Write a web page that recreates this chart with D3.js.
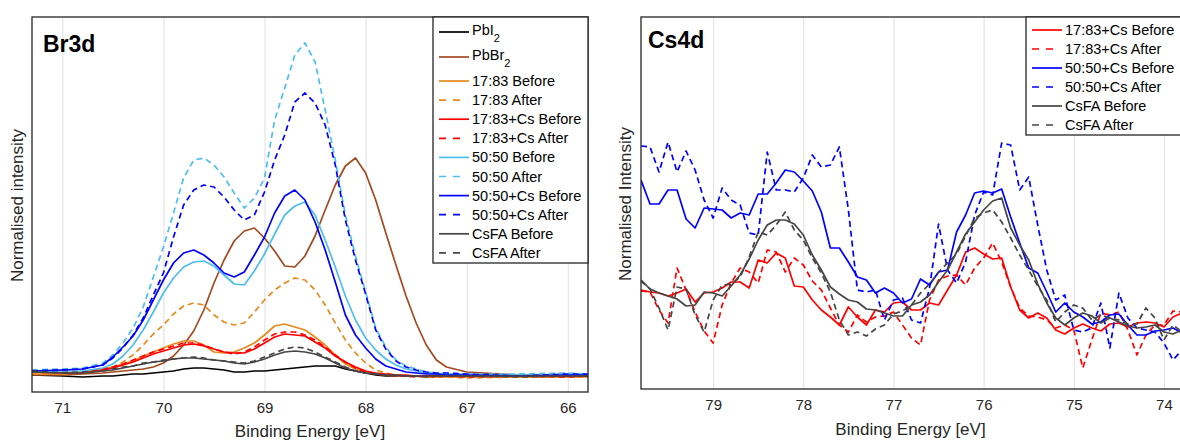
<!DOCTYPE html>
<html>
<head>
<meta charset="utf-8">
<script src="https://cdnjs.cloudflare.com/ajax/libs/d3/7.8.5/d3.min.js"></script>
<style>
body { margin: 0; background: #fff; }
svg { display: block; font-family: "Liberation Sans", Arial, sans-serif; }
</style>
</head>
<body>
<script>
// ---------- Br3d data (binding energy eV, intensity arb. units) ----------
var brEnergy = [71.3, 71.0, 70.8, 70.6, 70.5, 70.4, 70.3, 70.2, 70.1, 70.0,
    69.9, 69.8, 69.7, 69.6, 69.5, 69.4, 69.3, 69.2, 69.1, 69.0,
    68.9, 68.8, 68.7, 68.6, 68.5, 68.4, 68.3, 68.2, 68.1, 68.0,
    67.9, 67.8, 67.7, 67.6, 67.5, 67.4, 67.3, 67.2, 67.0, 66.5,
    66.0, 65.8];

var brPbI2 = [-3,-4,-5,-4,-4,-3,-2,-2,-1,0, 1,3,4,4,3,2,0,0,1,1, 2,3,4,5,6,6,6,3,1,-1, -3,-4,-4,-4,-4,-4,-4,-4,-4,-4, -4,-4];
var brPbBr2 = [-3,-3,-2,-1,0,1,2,3,5,9, 16,27,41,62,89,112,131,141,144,134, 121,106,105,116,136,162,187,206,214,199, 172,139,107,76,49,27,12,5,0,-3, -4,-4];
var br1783Before = [-2,-2,0,3,5,8,11,16,20,24, 28,31,31,27,20,19,20,24,29,37, 46,48,45,42,35,27,17,8,3,0, -2,-3,-4,-4,-4,-5,-5,-5,-5,-5, -5,-5];
var br1783After = [-2,-2,-1,2,5,10,17,27,38,47, 58,66,69,67,57,50,47,49,60,72, 82,89,94,92,82,67,49,32,19,9, 2,-1,-3,-4,-4,-5,-5,-5,-6,-5, -5,-5];
var br1783CsBefore = [0,-1,-1,2,4,7,10,14,18,21, 24,27,28,26,23,20,19,19,23,29, 35,38,37,36,30,24,16,10,5,1, -1,-2,-3,-3,-4,-4,-4,-4,-4,-4, -4,-4];
var br1783CsAfter = [2,1,0,3,5,8,12,16,20,23, 26,29,29,27,23,20,18,20,25,32, 38,40,40,37,32,25,17,10,4,0, -2,-3,-4,-4,-5,-4,-5,-4,-5,-4, -5,-4];
var br5050Before = [0,1,1,4,8,16,27,42,60,79, 94,105,110,111,106,97,88,87,101,118, 138,157,166,170,157,132,105,76,52,34, 22,13,7,3,1,-1,-2,-2,-3,-3, -3,-3];
var br5050After = [2,3,4,9,17,29,44,65,95,125, 159,194,212,214,207,195,179,164,174,194, 252,284,317,329,310,262,212,157,116,80, 44,25,12,6,3,0,-1,-2,-2,-2, -1,-2];
var br5050CsBefore = [1,2,3,7,15,25,36,52,72,92, 109,119,122,117,109,99,95,100,117,135, 159,176,182,172,150,122,90,57,37,24, 13,6,3,0,-1,-2,-2,-3,-3,-4, -3,-3];
var br5050CsAfter = [1,2,3,7,14,24,37,54,77,99, 135,167,182,187,185,175,162,152,157,180, 212,237,270,279,269,247,207,152,112,78, 42,23,11,5,2,0,-1,-1,-2,-4, -2,-2];
var brCsFABefore = [0,-1,-1,1,2,4,6,8,10,11, 13,14,14,13,12,11,9,8,10,13, 17,20,21,20,18,14,9,4,1,-1, -2,-3,-3,-4,-4,-4,-4,-4,-4,-4, -4,-4];
var brCsFAAfter = [1,-1,0,1,3,5,6,9,10,12, 13,14,15,14,12,11,10,9,11,15, 19,23,25,24,20,15,10,5,1,-1, -2,-3,-4,-4,-4,-5,-4,-4,-4,-5, -4,-4];

var brNames = ["PbI", "PbBr", "17:83 Before", "17:83 After", "17:83+Cs Before", "17:83+Cs After",
    "50:50 Before", "50:50 After", "50:50+Cs Before", "50:50+Cs After", "CsFA Before", "CsFA After"];
var brSubs = ["2", "2", "", "", "", "", "", "", "", "", "", ""];
var brTicks = [71, 70, 69, 68, 67, 66];

// ---------- Cs4d data ----------
var csEnergy = [79.8, 79.7, 79.6, 79.5, 79.4, 79.3, 79.2, 79.1, 79.0, 78.9,
    78.8, 78.7, 78.6, 78.5, 78.4, 78.3, 78.2, 78.1, 78.0, 77.9,
    77.8, 77.7, 77.6, 77.5, 77.4, 77.3, 77.2, 77.1, 77.0, 76.9,
    76.8, 76.7, 76.6, 76.5, 76.4, 76.3, 76.2, 76.1, 76.0, 75.9,
    75.8, 75.7, 75.6, 75.5, 75.4, 75.3, 75.2, 75.1, 75.0, 74.9,
    74.8, 74.7, 74.6, 74.5, 74.4, 74.3, 74.2, 74.1, 74.0, 73.9,
    73.8];

var cs1783CsBefore = [82,80,79,76,79,83,70,79,80,84, 90,90,84,112,109,119,114,86,85,72, 62,55,47,65,55,47,62,60,69,70, 62,62,69,67,82,97,120,124,118,113, 114,85,62,54,59,54,42,38,44,48, 44,41,48,49,45,49,50,49,45,55, 59];
var cs1783CsAfter = [81,80,62,49,104,82,60,41,29,67, 89,104,100,89,122,120,100,114,107,91, 82,64,47,40,57,50,55,56,60,47, 34,27,72,92,96,97,87,104,114,129, 110,85,64,56,55,52,44,47,42,4, 32,59,57,60,42,17,37,47,47,61, 60];
var cs5050CsBefore = [192,168,168,182,182,153,144,164,163,162, 154,159,157,178,178,189,202,200,191,181, 160,124,124,110,95,92,79,84,79,69, 73,93,87,100,102,140,157,179,181,179, 183,155,129,104,99,80,60,69,60,55, 48,50,57,58,47,37,37,41,42,44, 39];
var cs5050CsAfter = [226,225,200,230,200,221,202,172,154,184, 172,167,139,137,220,182,182,180,194,217, 205,207,225,162,82,80,82,52,72,74, 52,49,84,148,102,89,110,157,180,177, 229,227,182,195,147,102,72,77,42,40, 44,69,24,79,54,44,42,40,29,12, 22];
var csCsFABefore = [92,83,79,76,73,66,67,80,79,76, 86,97,113,132,147,152,152,148,137,117, 102,85,78,72,70,63,62,59,56,56, 67,70,77,90,102,120,138,150,162,171, 174,144,127,112,88,69,54,47,54,59, 56,49,54,50,46,44,45,47,40,38, 42];
var csCsFAAfter = [91,83,64,42,85,83,57,40,72,87, 88,95,115,140,137,147,160,142,132,114, 99,80,52,37,40,36,43,47,58,61, 67,79,88,100,109,118,136,154,159,162, 150,134,117,102,86,72,50,60,67,64, 52,57,54,52,48,48,64,54,32,47, 40];

var csNames = ["17:83+Cs Before", "17:83+Cs After", "50:50+Cs Before", "50:50+Cs After", "CsFA Before", "CsFA After"];
var csTicks = [79, 78, 77, 76, 75, 74];

// colours (MATLAB-like)
var black = "#000000", brown = "#a3491d", orange = "#e8891c", red = "#ff0000",
    lightBlue = "#4dbeee", blue = "#0000ff", grey = "#454545";
var dashed = "6,4";

var brSeries = [
    {values: brPbI2, color: black, dash: null},
    {values: brPbBr2, color: brown, dash: null},
    {values: br1783Before, color: orange, dash: null},
    {values: br1783After, color: orange, dash: dashed},
    {values: br1783CsBefore, color: red, dash: null},
    {values: br1783CsAfter, color: red, dash: dashed},
    {values: br5050Before, color: lightBlue, dash: null},
    {values: br5050After, color: lightBlue, dash: dashed},
    {values: br5050CsBefore, color: blue, dash: null},
    {values: br5050CsAfter, color: blue, dash: dashed},
    {values: brCsFABefore, color: grey, dash: null},
    {values: brCsFAAfter, color: grey, dash: dashed}
];
brSeries.forEach(function(s, i) { s.name = brNames[i]; s.sub = brSubs[i]; s.x = brEnergy; });

var csSeries = [
    {values: cs1783CsBefore, color: red, dash: null},
    {values: cs1783CsAfter, color: red, dash: dashed},
    {values: cs5050CsBefore, color: blue, dash: null},
    {values: cs5050CsAfter, color: blue, dash: dashed},
    {values: csCsFABefore, color: grey, dash: null},
    {values: csCsFAAfter, color: grey, dash: dashed}
];
csSeries.forEach(function(s, i) { s.name = csNames[i]; s.sub = ""; s.x = csEnergy; });

var svg = d3.select("body").append("svg")
    .attr("width", 1180)
    .attr("height", 440);

function drawPanel(p) {
    var x = d3.scaleLinear().domain(p.xDomain).range([p.left, p.right]);
    var y = d3.scaleLinear().domain(p.yDomain).range([p.bottom, p.top]);
    var g = svg.append("g");

    // vertical grid
    g.append("g")
        .attr("transform", "translate(0," + p.bottom + ")")
        .call(d3.axisBottom(x).tickValues(p.ticks).tickSize(-(p.bottom - p.top)).tickFormat(""))
        .call(function(a) {
            a.select(".domain").remove();
            a.selectAll("line").attr("stroke", "#dfdfdf").attr("stroke-width", 1);
        });

    // tick labels
    g.append("g")
        .attr("transform", "translate(0," + p.bottom + ")")
        .call(d3.axisBottom(x).tickValues(p.ticks).tickSize(0).tickPadding(10).tickFormat(d3.format("d")))
        .call(function(a) {
            a.select(".domain").remove();
            a.selectAll("text").attr("fill", "#262626").attr("font-size", 15)
                .attr("font-family", "Liberation Sans, Arial, sans-serif");
        });

    // curves
    g.append("clipPath").attr("id", p.id + "clip")
        .append("rect")
        .attr("x", p.left).attr("y", p.top)
        .attr("width", p.right - p.left).attr("height", p.bottom - p.top);

    var line = d3.line()
        .x(function(d) { return x(d[0]); })
        .y(function(d) { return y(d[1]); });

    g.append("g").attr("clip-path", "url(#" + p.id + "clip)")
        .selectAll("path")
        .data(p.series)
        .enter().append("path")
        .attr("d", function(s) { return line(s.values.map(function(v, i) { return [s.x[i], v]; })); })
        .attr("fill", "none")
        .attr("stroke", function(s) { return s.color; })
        .attr("stroke-width", 1.7)
        .attr("stroke-dasharray", function(s) { return s.dash; })
        .attr("stroke-linejoin", "round");

    // frame
    g.append("rect")
        .attr("x", p.left).attr("y", p.top)
        .attr("width", p.right - p.left).attr("height", p.bottom - p.top)
        .attr("fill", "none")
        .attr("stroke", "#262626")
        .attr("stroke-width", 1.3);

    // panel title
    g.append("text")
        .attr("x", p.left + (p.id == "br" ? 11 : 7))
        .attr("y", p.titleY)
        .attr("font-size", 23)
        .attr("font-weight", "bold")
        .attr("fill", "#000")
        .text(p.title);

    // axis labels
    g.append("text")
        .attr("x", (p.left + Math.min(p.right, 1180)) / 2 + p.xLabelShift)
        .attr("y", p.xLabelY)
        .attr("text-anchor", "middle")
        .attr("font-size", 17)
        .attr("fill", "#262626")
        .text("Binding Energy [eV]");

    g.append("text")
        .attr("transform", "translate(" + p.yLabelX + "," + ((p.top + p.bottom) / 2 + 1) + ") rotate(-90)")
        .attr("text-anchor", "middle")
        .attr("font-size", 17)
        .attr("fill", "#262626")
        .text(p.yLabel);

    // legend
    var lg = g.append("g");
    lg.append("rect")
        .attr("x", p.legendX).attr("y", p.top)
        .attr("width", p.legendW).attr("height", p.legendH)
        .attr("fill", "#fff")
        .attr("stroke", "#262626")
        .attr("stroke-width", 1.3);

    var rows = lg.selectAll("g.row")
        .data(p.series)
        .enter().append("g")
        .attr("class", "row")
        .attr("transform", function(s, i) { return "translate(" + p.legendX + "," + p.rowY(i) + ")"; });

    rows.append("line")
        .attr("x1", 6)
        .attr("x2", function(s) { return s.dash ? 28 : 36; })
        .attr("stroke", function(s) { return s.color; })
        .attr("stroke-width", 1.7)
        .attr("stroke-dasharray", function(s) { return s.dash ? "7,7" : null; });

    var labels = rows.append("text")
        .attr("x", 39)
        .attr("y", function(s) { return s.sub ? 2.5 : 5; })
        .attr("font-size", 14.5)
        .attr("fill", "#000");
    labels.append("tspan").text(function(s) { return s.name; });
    labels.filter(function(s) { return s.sub; })
        .append("tspan")
        .attr("dy", 7)
        .attr("font-size", 11)
        .text(function(s) { return s.sub; });
}

drawPanel({
    id: "br", title: "Br3d", titleY: 52,
    left: 32, right: 588, top: 17, bottom: 392,
    xDomain: [71.3, 65.8], yDomain: [-20, 355],
    ticks: brTicks, series: brSeries,
    xLabelY: 437, xLabelShift: 0,
    yLabel: "Normalised intensity", yLabelX: 23,
    legendX: 433, legendW: 155, legendH: 246,
    rowY: function(i) { return i < 2 ? 32 + 25 * i : 81 + 19.1 * (i - 2); }
});

drawPanel({
    id: "cs", title: "Cs4d", titleY: 48,
    left: 641, right: 1182, top: 17, bottom: 389,
    xDomain: [79.8, 73.8], yDomain: [-17, 355],
    ticks: csTicks, series: csSeries,
    xLabelY: 435, xLabelShift: 0,
    yLabel: "Normalised Intensity", yLabelX: 631,
    legendX: 1026, legendW: 170, legendH: 118,
    rowY: function(i) { return 30 + 19 * i; }
});
</script>
</body>
</html>
